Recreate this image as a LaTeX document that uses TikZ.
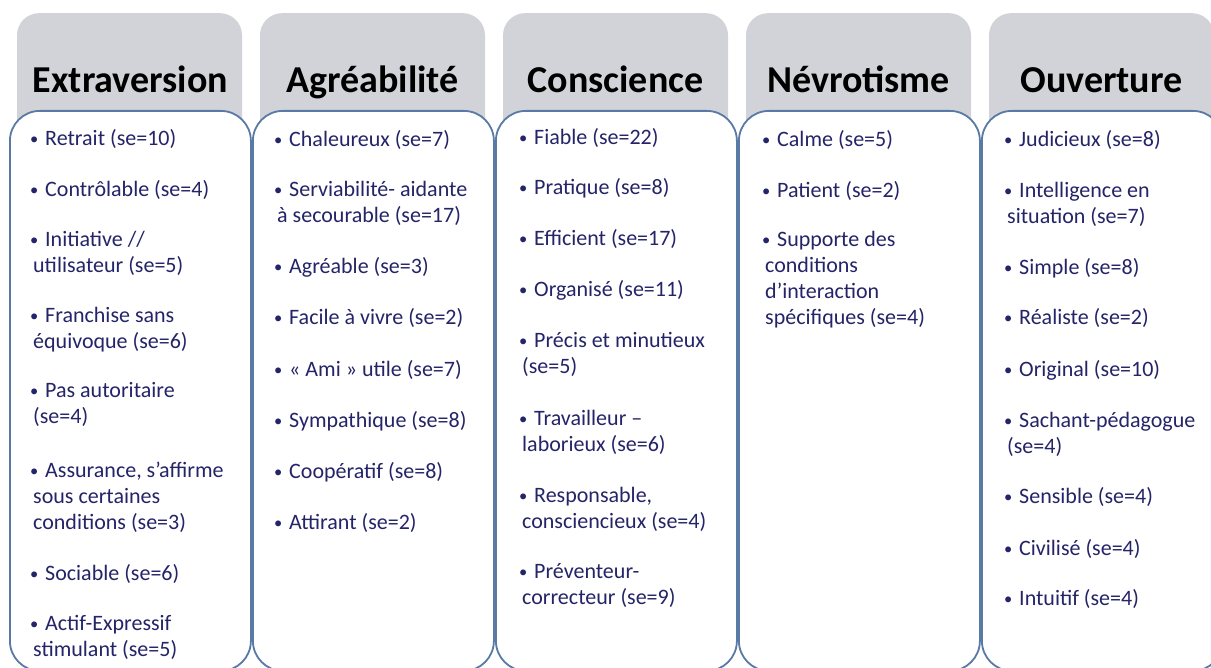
\documentclass[tikz,border=0pt]{standalone}
\usepackage{fontspec}
\setmainfont{Carlito}
\definecolor{hdrgrey}{RGB}{210,211,216}
\definecolor{boxblue}{RGB}{88,122,165}
\definecolor{txtnavy}{RGB}{36,36,104}
\newcommand{\bul}{\hspace*{-3pt}\makebox[15pt][l]{\raisebox{1pt}{\scalebox{0.75}{•}}}}
\newcommand{\lns}[1]{\vtop{\halign{##\hfil\cr #1\crcr}}}
\tikzset{
  header/.style={fill=hdrgrey, rounded corners=22pt, minimum width=225pt, minimum height=190pt, anchor=north, inner sep=0pt},
  title/.style={font={\fontsize{38}{42}\selectfont\bfseries}, text=black, anchor=base, inner sep=0pt},
  colbox/.style={draw=boxblue, line width=1.8pt, fill=white, rounded corners=30pt, minimum width=241pt, minimum height=560pt, anchor=north west, inner sep=0pt},
  item/.style={font={\fontsize{22}{26}\selectfont}, text=txtnavy, anchor=base west, inner sep=0pt}
}
\begin{document}
\begin{tikzpicture}[x=1pt,y=-1pt]
\useasboundingbox (0,0) rectangle (1211,668);
% headers
\node[header] (h1) at (129.5,13) {};
\node[header] (h2) at (372.5,13) {};
\node[header] (h3) at (615.5,13) {};
\node[header] (h4) at (858.5,13) {};
\node[header] (h5) at (1101.5,13) {};
\node[title] (t1) at (130.5,93) {Extraversion};
\node[title] (t2) at (372.5,93) {Agréabilité};
\node[title] (t3) at (615.5,93) {Conscience};
\node[title] (t4) at (858.5,93) {Névrotisme};
\node[title] (t5) at (1101.5,93) {Ouverture};
% boxes
\node[colbox] (b1) at (9,110) {};
\node[colbox] (b2) at (252,110) {};
\node[colbox] (b3) at (495,110) {};
\node[colbox] (b4) at (738,110) {};
\node[colbox] (b5) at (981,110) {};
% column 1
\node[item] (a1) at (33,146) {\lns{\bul Retrait (se=10)}};
\node[item] (a2) at (33,197) {\lns{\bul Contrôlable (se=4)}};
\node[item] (a3) at (33,247) {\lns{\bul Initiative //\cr utilisateur (se=5)}};
\node[item] (a4) at (33,323) {\lns{\bul Franchise sans\cr équivoque (se=6)}};
\node[item] (a5) at (33,398) {\lns{\bul Pas autoritaire\cr (se=4)}};
\node[item] (a6) at (33,477) {\lns{\bul Assurance, s’affirme\cr sous certaines\cr conditions (se=3)}};
\node[item] (a7) at (33,580) {\lns{\bul Sociable (se=6)}};
\node[item] (a8) at (33,630) {\lns{\bul Actif-Expressif\cr stimulant (se=5)}};
% column 2
\node[item] (g1) at (277,147) {\lns{\bul Chaleureux (se=7)}};
\node[item] (g2) at (277,197) {\lns{\bul Serviabilité- aidante\cr à secourable (se=17)}};
\node[item] (g3) at (277,274) {\lns{\bul Agréable (se=3)}};
\node[item] (g4) at (277,325) {\lns{\bul Facile à vivre (se=2)}};
\node[item] (g5) at (277,377) {\lns{\bul « Ami » utile (se=7)}};
\node[item] (g6) at (277,428) {\lns{\bul Sympathique (se=8)}};
\node[item] (g7) at (277,478) {\lns{\bul Coopératif (se=8)}};
\node[item] (g8) at (277,529) {\lns{\bul Attirant (se=2)}};
% column 3
\node[item] (c1) at (522,145) {\lns{\bul Fiable (se=22)}};
\node[item] (c2) at (522,195) {\lns{\bul Pratique (se=8)}};
\node[item] (c3) at (522,246) {\lns{\bul Efficient (se=17)}};
\node[item] (c4) at (522,297) {\lns{\bul Organisé (se=11)}};
\node[item] (c5) at (522,348) {\lns{\bul Précis et minutieux\cr (se=5)}};
\node[item] (c6) at (522,425) {\lns{\bul Travailleur –\cr laborieux (se=6)}};
\node[item] (c7) at (522,502) {\lns{\bul Responsable,\cr consciencieux (se=4)}};
\node[item] (c8) at (522,578) {\lns{\bul Préventeur-\cr correcteur (se=9)}};
% column 4
\node[item] (n1) at (765,147) {\lns{\bul Calme (se=5)}};
\node[item] (n2) at (765,198) {\lns{\bul Patient (se=2)}};
\node[item] (n3) at (765,247) {\lns{\bul Supporte des\cr conditions\cr d’interaction\cr spécifiques (se=4)}};
% column 5
\node[item] (o1) at (1007,147) {\lns{\bul Judicieux (se=8)}};
\node[item] (o2) at (1007,198) {\lns{\bul Intelligence en\cr situation (se=7)}};
\node[item] (o3) at (1007,275) {\lns{\bul Simple (se=8)}};
\node[item] (o4) at (1007,325) {\lns{\bul Réaliste (se=2)}};
\node[item] (o5) at (1007,377) {\lns{\bul Original (se=10)}};
\node[item] (o6) at (1007,428) {\lns{\bul Sachant-pédagogue\cr (se=4)}};
\node[item] (o7) at (1007,503) {\lns{\bul Sensible (se=4)}};
\node[item] (o8) at (1007,555) {\lns{\bul Civilisé (se=4)}};
\node[item] (o9) at (1007,605) {\lns{\bul Intuitif (se=4)}};
\end{tikzpicture}
\end{document}
